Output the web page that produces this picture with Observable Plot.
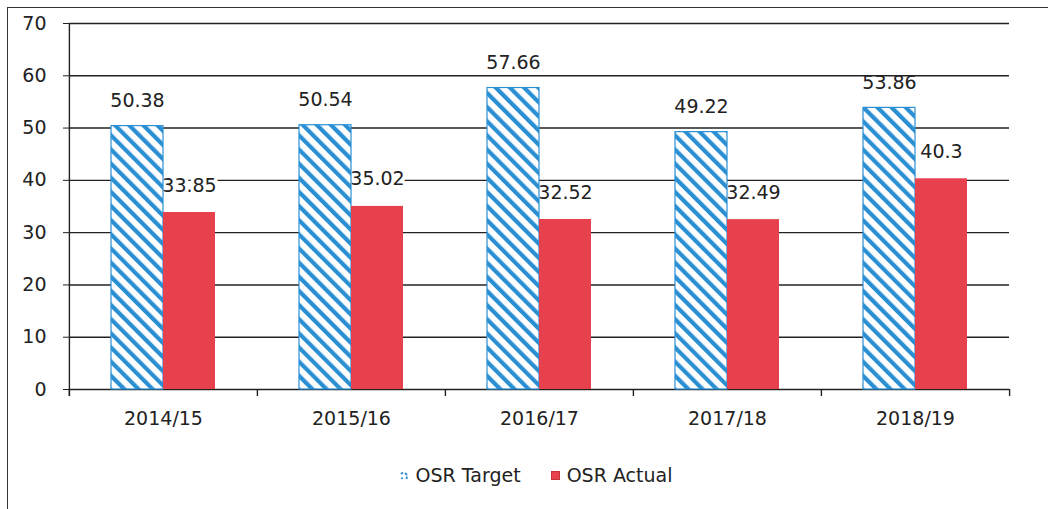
<!DOCTYPE html>
<html>
<head>
<meta charset="utf-8">
<script src="https://cdn.jsdelivr.net/npm/d3@7"></script>
<script src="https://cdn.jsdelivr.net/npm/@observablehq/plot@0.6"></script>
<style>
  html, body { margin: 0; padding: 0; background: #fff; }
  body { width: 1048px; height: 509px; position: relative; overflow: hidden; font-family: "DejaVu Sans", sans-serif; color: #222; }
  #frame { position: absolute; left: 7px; top: 7px; width: 1060px; height: 520px; border-left: 1.5px solid #333; border-top: 1.5px solid #333; }
  #chart { position: absolute; left: 0; top: 0; }
  #legend { position: absolute; left: 12px; top: 464px; width: 1048px; display: flex; justify-content: center; align-items: center; font-size: 19px; }
  .item { display: flex; align-items: center; margin: 0 15px; }
  .sw { width: 9px; height: 9px; margin-right: 7px; box-sizing: border-box; }
  .red { background: #e8414e; border: 1px solid #c8303c; }
</style>
</head>
<body>
<div id="frame"></div>
<div id="chart"></div>
<div id="legend"></div>
<script>
const years = ["2014/15", "2015/16", "2016/17", "2017/18", "2018/19"];
const series = ["OSR Target", "OSR Actual"];
const targetValues = [50.38, 50.54, 57.66, 49.22, 53.86];
const actualValues = [33.85, 35.02, 32.52, 32.49, 40.3];
const yTicks = [0, 10, 20, 30, 40, 50, 60, 70];

const targetRows = years.map((y, i) => ({year: y, series: series[0], value: targetValues[i]}));
const actualRows = years.map((y, i) => ({year: y, series: series[1], value: actualValues[i]}));

const W = 1048, H = 445, ML = 68, MR = 39, MT = 23, MB = 56;
const facetW = (W - ML - MR) / years.length;
const blue = "#2b8fd4", red = "#e8414e", ink = "#222";

const chart = Plot.plot({
  width: W, height: H,
  marginLeft: ML, marginRight: MR, marginTop: MT, marginBottom: MB,
  style: {fontFamily: "DejaVu Sans", fontSize: "19px", color: ink, background: "transparent", overflow: "visible"},
  fx: {domain: years, padding: 0, label: null, tickSize: 0, tickPadding: 22, axis: "bottom"},
  x: {domain: series, paddingInner: 0, paddingOuter: 0.79, axis: null},
  y: {domain: [0, 70], ticks: yTicks, tickSize: 6, tickPadding: 17, label: null, tickFormat: d => String(d)},
  marks: [
    Plot.ruleY(yTicks, {stroke: ink, strokeWidth: 1.4}),
    Plot.text(actualRows, {fx: "year", x: "series", y: "value", text: d => String(d.value), dy: -27, fill: ink, stroke: "white", strokeWidth: 7, fontSize: 19}),
    Plot.barY(targetRows, {fx: "year", x: "series", y: "value", fill: "url(#osrHatch)", stroke: blue, strokeWidth: 1.2}),
    Plot.barY(actualRows, {fx: "year", x: "series", y: "value", fill: red}),
    Plot.text(targetRows, {fx: "year", x: "series", y: "value", text: d => String(d.value), dy: -25, fill: ink, fontSize: 19}),
    Plot.ruleX(years, {fx: d => d, x: null, y1: 0, y2: -1.35, dx: -facetW / 2, stroke: ink, strokeWidth: 1.4}),
    Plot.ruleX(years.slice(-1), {fx: d => d, x: null, y1: 0, y2: -1.35, dx: facetW / 2, stroke: ink, strokeWidth: 1.4}),
    Plot.ruleX(years.slice(0, 1), {fx: d => d, x: null, y1: 70, y2: -1.35, dx: -facetW / 2, stroke: ink, strokeWidth: 1.4})
  ]
});

// hatch pattern definition
const ns = "http://www.w3.org/2000/svg";
const defs = document.createElementNS(ns, "defs");
defs.innerHTML = `<pattern id="osrHatch" patternUnits="userSpaceOnUse" width="10" height="10" patternTransform="rotate(-45)">
  <rect width="10" height="10" fill="white"/>
  <rect x="0" y="0" width="4.2" height="10" fill="${blue}"/>
</pattern>`;
chart.insertBefore(defs, chart.firstChild);
document.getElementById("chart").appendChild(chart);

// legend
const legend = document.getElementById("legend");
legend.innerHTML = `
  <div class="item"><svg class="sw" width="9" height="9" viewBox="0 0 9 9"><path d="M1 3 L3 1.5 M5 2 L7 4 M7 5.5 L6.5 8 M1 7.5 L3 7" stroke="${blue}" stroke-width="1.8" fill="none"/></svg><span>${series[0]}</span></div>
  <div class="item"><div class="sw red"></div><span>${series[1]}</span></div>`;
</script>
</body>
</html>
